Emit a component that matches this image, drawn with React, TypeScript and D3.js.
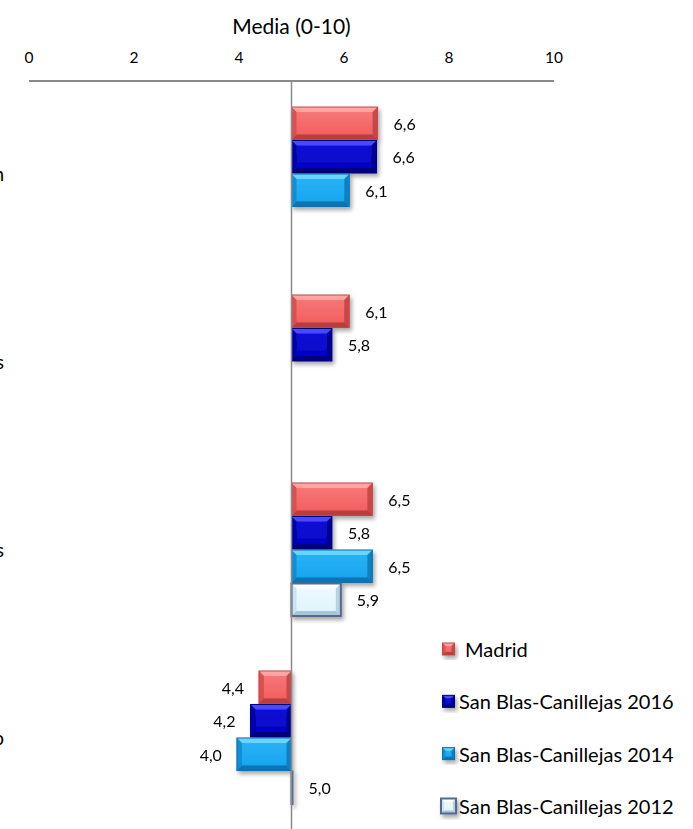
import React from "react";
import * as d3 from "d3";

const categories = [
  "Valoración general de la gestión municipal en el distrito: atención",
  "Servicios de limpieza y zonas verdes de los barrios",
  "Transportes y equipamientos públicos",
  "Seguridad y convivencia en el barrio",
];
const seriesNames = [
  "Madrid",
  "San Blas-Canillejas 2016",
  "San Blas-Canillejas 2014",
  "San Blas-Canillejas 2012",
];
const madrid: (number | null)[] = [6.64, 6.1, 6.54, 4.38];
const sb2016: (number | null)[] = [6.62, 5.77, 5.77, 4.22];
const sb2014: (number | null)[] = [6.1, null, 6.54, 3.96];
const sb2012: (number | null)[] = [null, null, 5.94, 5.02];
const xTicks = [0, 2, 4, 6, 8, 10];
const baseline = 5;
const axisTitle = "Media (0-10)";

const seriesValues = [madrid, sb2016, sb2014, sb2012];

const styles = [
  { face: "#f25b5b", faceTop: "#f77a7a", light: "#ffa3a3", dark: "#b83c3c", side: "#d84c4c", stroke: "#c24848", sw: 1 },
  { face: "#0000c4", faceTop: "#1414d8", light: "#4a4aff", dark: "#00007c", side: "#0000a4", stroke: "#00007a", sw: 1 },
  { face: "#14a3ee", faceTop: "#2cb4f6", light: "#6ad4ff", dark: "#0a73b2", side: "#0e8cd0", stroke: "#0b6fae", sw: 1 },
  { face: "#dcf4fb", faceTop: "#eefbff", light: "#ffffff", dark: "#a6c6d6", side: "#c4e2ee", stroke: "#526b8e", sw: 2 },
];

const FONT = "Lato, 'Open Sans', sans-serif";
const W = 693;
const H = 829;

function fmt(v: number) {
  return v.toFixed(1).replace(".", ",");
}

function Bevel({ x0, y0, x1, y1, s, id, b }: any) {
  const w = x1 - x0;
  const h = y1 - y0;
  const bb = Math.max(0, Math.min(b, w / 2, h / 2));
  const p = (pts: number[][]) => pts.map((q) => q.join(",")).join(" ");
  return (
    <g>
      <rect x={x0} y={y0} width={w} height={h} fill={`url(#grad${id})`} />
      {bb > 0.5 && (
        <>
          <polygon points={p([[x0, y0], [x1, y0], [x1 - bb, y0 + bb], [x0 + bb, y0 + bb]])} fill={s.light} />
          <polygon points={p([[x0, y0], [x0 + bb, y0 + bb], [x0 + bb, y1 - bb], [x0, y1]])} fill={s.side} opacity={0.9} />
          <polygon points={p([[x0, y1], [x0 + bb, y1 - bb], [x1 - bb, y1 - bb], [x1, y1]])} fill={s.dark} />
          <polygon points={p([[x1, y0], [x1, y1], [x1 - bb, y1 - bb], [x1 - bb, y0 + bb]])} fill={s.dark} opacity={0.75} />
        </>
      )}
      <rect x={x0} y={y0} width={w} height={h} fill="none" stroke={s.stroke} strokeWidth={s.sw} />
    </g>
  );
}

export default function App() {
  const x = d3.scaleLinear().domain([0, 10]).range([29, 554]);
  const y0 = d3
    .scaleBand<string>()
    .domain(categories)
    .range([80, 831])
    .paddingInner(0.287)
    .paddingOuter(0.141);
  const y1 = d3
    .scaleBand<string>()
    .domain(seriesNames)
    .range([0, y0.bandwidth()])
    .padding(0);

  const axisY = 81;
  const xb = x(baseline);

  const bars: any[] = [];
  categories.forEach((c, ci) => {
    seriesNames.forEach((sn, si) => {
      const v = seriesValues[si][ci];
      if (v === null || v === undefined) return;
      const top = (y0(c) as number) + (y1(sn) as number) + 0.5;
      const bot = top + y1.bandwidth() - 1;
      const xa = Math.min(x(v), xb);
      const xe = Math.max(x(v), xb);
      bars.push({ ci, si, v, top, bot, xa, xe, mid: (top + bot) / 2 });
    });
  });

  const legendY = d3.scalePoint<string>().domain(seriesNames).range([649, 806]);

  return (
    <svg
      width={W}
      height={H}
      style={{ position: "absolute", left: 0, top: 0, background: "#fff" }}
      fontFamily={FONT}
    >
      <defs>
        <filter id="shadow" x="-20%" y="-20%" width="150%" height="160%">
          <feDropShadow dx="2" dy="3" stdDeviation="2" floodColor="#000" floodOpacity="0.35" />
        </filter>
        {styles.map((s, i) => (
          <linearGradient key={i} id={`grad${i}`} x1="0" y1="0" x2="0" y2="1">
            <stop offset="0" stopColor={s.faceTop} />
            <stop offset="1" stopColor={s.face} />
          </linearGradient>
        ))}
      </defs>

      <text x={(x(0) + x(10)) / 2} y={25} textAnchor="middle" dominantBaseline="central" fontSize={21} fill="#000">
        {axisTitle}
      </text>
      {xTicks.map((t) => (
        <text key={t} x={x(t)} y={57} textAnchor="middle" dominantBaseline="central" fontSize={15.5} fill="#000">
          {t}
        </text>
      ))}
      <line x1={x(0)} x2={x(10)} y1={axisY} y2={axisY} stroke="#8a8a8a" strokeWidth={2} />

      {categories.map((c) => (
        <text
          key={c}
          x={4}
          y={(y0(c) as number) + y0.bandwidth() / 2}
          textAnchor="end"
          dominantBaseline="central"
          fontSize={19}
          fill="#000"
        >
          {c}
        </text>
      ))}

      <g filter="url(#shadow)">
        {bars.map((b, i) => (
          <Bevel key={i} x0={b.xa} y0={b.top} x1={b.xe} y1={b.bot} s={styles[b.si]} id={b.si} b={5} />
        ))}
      </g>

      <line x1={xb} x2={xb} y1={axisY} y2={H} stroke="#8a8a8a" strokeWidth={1.5} />

      {bars.map((b, i) => (
        <text
          key={"l" + i}
          x={b.v >= baseline ? b.xe + 16 : b.xa - 15}
          y={b.mid}
          textAnchor={b.v >= baseline ? "start" : "end"}
          dominantBaseline="central"
          fontSize={16}
          fill="#000"
        >
          {fmt(b.v)}
        </text>
      ))}

      {seriesNames.map((sn, si) => {
        const cy = legendY(sn) as number;
        const sz = si === 3 ? 15 : 12;
        const lx = si === 3 ? 441 : 442.5;
        return (
          <g key={sn}>
            <g filter="url(#shadow)">
              <Bevel x0={lx} y0={cy - sz / 2} x1={lx + sz} y1={cy + sz / 2} s={styles[si]} id={si} b={3} />
            </g>
            <text
              x={si === 0 ? 465 : 459}
              y={cy}
              dominantBaseline="central"
              fontSize={20}
              fill="#000"
            >
              {sn}
            </text>
          </g>
        );
      })}
    </svg>
  );
}
